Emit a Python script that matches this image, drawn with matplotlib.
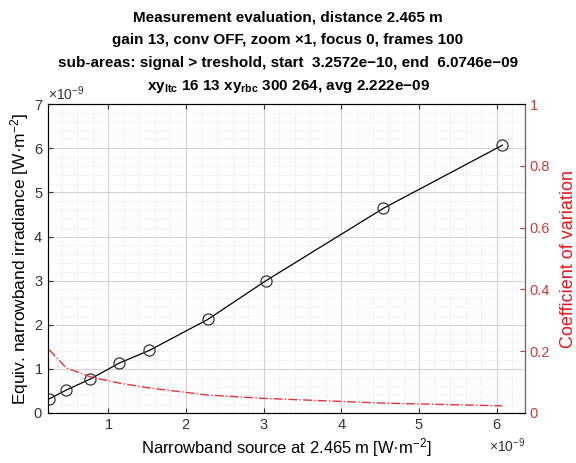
import matplotlib
matplotlib.use('Agg')
import matplotlib.pyplot as plt
import numpy as np
from matplotlib.ticker import MultipleLocator, ScalarFormatter

plt.rcParams['font.family'] = ['Liberation Sans', 'DejaVu Sans']
plt.rcParams['mathtext.default'] = 'regular'

# --- Data ---
source = np.array([0.24, 0.46, 0.77, 1.14, 1.53, 2.28, 3.03, 4.54, 6.07]) * 1e-9
irradiance = np.array([0.32, 0.52, 0.77, 1.13, 1.42, 2.12, 3.00, 4.64, 6.07]) * 1e-9
cv = np.array([0.205, 0.146, 0.117, 0.097, 0.081, 0.058, 0.047, 0.032, 0.023])

title_lines = [
    'Measurement evaluation, distance 2.465 m',
    'gain 13, conv OFF, zoom \u00d71, focus 0, frames 100',
    'sub-areas: signal > treshold, start  3.2572e\u221210, end  6.0746e\u221209',
    'xy$_{ltc}$ 16 13 xy$_{rbc}$ 300 264, avg 2.222e\u221209',
]

# --- Plotting ---
fig = plt.figure(figsize=(5.76, 4.63), dpi=100)
ax = fig.add_axes([0.0833, 0.108, 0.828, 0.667])

ax.plot(source, irradiance, '-o', color='black', linewidth=0.9,
        markersize=8, markerfacecolor='none', markeredgecolor='#333333', markeredgewidth=0.9)

ax.set_xlim(0.225e-9, 6.36e-9)
ax.set_ylim(0, 7e-9)
ax.xaxis.set_major_locator(MultipleLocator(1e-9))
ax.xaxis.set_minor_locator(MultipleLocator(0.2e-9))
ax.yaxis.set_major_locator(MultipleLocator(1e-9))
ax.yaxis.set_minor_locator(MultipleLocator(0.2e-9))
for axis in (ax.xaxis, ax.yaxis):
    fmt = ScalarFormatter(useMathText=True)
    fmt.set_powerlimits((0, 0))
    axis.set_major_formatter(fmt)

ax.grid(which='major', color='#d4d4d4', linewidth=0.8)
ax.grid(which='minor', color='#e4e4e4', linestyle=':', linewidth=0.7)
ax.set_axisbelow(True)
ax.tick_params(which='both', direction='in', top=True, labelsize=10.5, color='#444444')
ax.tick_params(which='minor', length=0)
ax.tick_params(axis='both', colors='#333333')
for s in ('left', 'top', 'bottom'):
    ax.spines[s].set_color('#444444')

ax.set_xlabel('Narrowband source at 2.465\u2009m [W\u00b7m$^{-2}$]', fontsize=12, labelpad=3)
ax.set_ylabel('Equiv. narrowband irradiance [W\u00b7m$^{-2}$]', fontsize=12.5, labelpad=2)
ax.xaxis.get_offset_text().set_fontsize(10)
ax.yaxis.get_offset_text().set_fontsize(10)

# Right axis: coefficient of variation
ax2 = ax.twinx()
ax2.plot(source, cv, linestyle='-.', color='#e8323c', linewidth=1.0)
ax2.set_ylim(0, 1)
ax2.set_yticks([0, 0.2, 0.4, 0.6, 0.8, 1])
ax2.set_yticklabels(['0', '0.2', '0.4', '0.6', '0.8', '1'])
ax2.tick_params(axis='y', direction='in', colors='#c83c3c', labelsize=10.5)
ax2.spines['right'].set_color('#c83c3c')
ax2.set_ylabel('Coefficient of variation', color='#e8141e', fontsize=13, labelpad=7)

# Title: one text per line, spaced like the reference
for i, line in enumerate(title_lines):
    fig.text(0.5, 0.963 - i * 0.0497, line, ha='center', va='center',
             fontsize=11, fontweight='bold')

plt.savefig('out.png', dpi=100)
